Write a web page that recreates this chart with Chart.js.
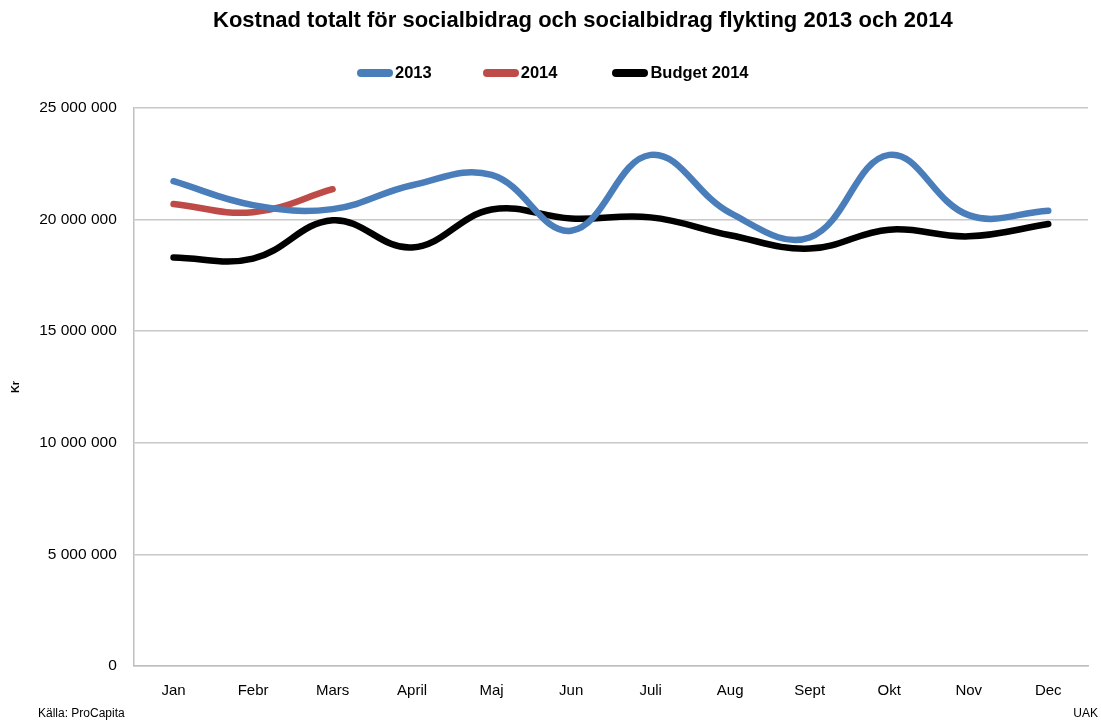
<!DOCTYPE html>
<html>
<head>
<meta charset="utf-8">
<script src="https://cdn.jsdelivr.net/npm/chart.js@4.4.1/dist/chart.umd.min.js"></script>
<style>
  html, body { margin: 0; padding: 0; background: #fff; }
  #wrap { position: relative; width: 1101px; height: 720px; }
  #title { position: absolute; left: 213px; top: 7px; width: 736px; text-align: center; white-space: nowrap;
           font-family: 'Liberation Sans', Arial, sans-serif; font-size: 22px; font-weight: bold; color: #000; }
  .note { position: absolute; font-family: 'Liberation Sans Narrow', 'Liberation Sans', Arial, sans-serif; font-size: 12px; color: #000; }
  #legend { position: absolute; left: 357px; top: 63px; display: flex; align-items: center;
            font-family: 'Liberation Sans', Arial, sans-serif; font-size: 16.5px; font-weight: bold; color: #000; }
  #legend .item { display: flex; align-items: center; margin-right: 55px; }
  #legend .item:first-child { margin-right: 51px; }
  #legend .box { width: 36px; height: 8px; border-radius: 4px; margin-right: 2px; }
</style>
</head>
<body>
<div id="wrap">
  <canvas id="chart" width="1101" height="720"></canvas>
  <div id="title">Kostnad totalt för socialbidrag och socialbidrag flykting 2013 och 2014</div>
  <div id="legend"></div>
  <div class="note" style="left:38px; top:706px;">Källa: ProCapita</div>
  <div class="note" style="right:3px; top:706px;">UAK</div>
</div>
<script>
const months = ['Jan', 'Febr', 'Mars', 'April', 'Maj', 'Jun', 'Juli', 'Aug', 'Sept', 'Okt', 'Nov', 'Dec'];
const cost2013 = [21720000, 20650000, 20470000, 21540000, 22000000, 19500000, 22900000, 20300000, 19200000, 22900000, 20200000, 20400000];
const cost2014 = [20700000, 20330000, 21360000, null, null, null, null, null, null, null, null, null];
const budget2014 = [18300000, 18250000, 19970000, 18750000, 20450000, 20050000, 20100000, 19300000, 18700000, 19550000, 19250000, 19800000];

const fontFam = "'Liberation Sans Narrow', 'Liberation Sans', Arial, sans-serif";

const fmt = v => String(v).replace(/\B(?=(\d{3})+(?!\d))/g, ' ');

const lineDs = (label, data, color) => ({
    label,
    data,
    borderColor: color,
    backgroundColor: color,
    borderWidth: 6.5,
    pointRadius: 0,
    tension: 0.4,
    spanGaps: false,
    borderCapStyle: 'round',
    fill: false
});

const chart = new Chart(document.getElementById('chart').getContext('2d'), {
    type: 'line',
    data: {
        labels: months,
        datasets: [
            lineDs('2013', cost2013, '#4a7ebb'),
            lineDs('2014', cost2014, '#be4b48'),
            lineDs('Budget 2014', budget2014, '#000000')
        ]
    },
    options: {
        responsive: false,
        animation: false,
        layout: { padding: { left: 9, right: 13, top: 108, bottom: 4 } },
        plugins: {
            title: { display: false },
            legend: { display: false },
            tooltip: { enabled: false }
        },
        scales: {
            x: {
                offset: true,
                grid: { display: false, drawTicks: false },
                border: { color: '#bfbfbf', width: 1.5 },
                ticks: { color: '#000', padding: 16, font: { family: fontFam, size: 15 } }
            },
            y: {
                min: 0,
                max: 25000000,
                title: {
                    display: true,
                    text: 'Kr',
                    color: '#000',
                    font: { family: 'Liberation Sans, Arial, sans-serif', size: 11, weight: 'bold' },
                    padding: { top: 0, bottom: 0 }
                },
                grid: { color: '#c8c8c8', lineWidth: 1.5, drawTicks: false },
                border: { color: '#bfbfbf', width: 1.5 },
                ticks: {
                    stepSize: 5000000,
                    color: '#000',
                    padding: 17,
                    font: { family: fontFam, size: 15.5 },
                    callback: v => fmt(v)
                }
            }
        }
    }
});

// legend as html, built from the datasets
const legendEl = document.getElementById('legend');
chart.data.datasets.forEach(ds => {
    const item = document.createElement('div');
    item.className = 'item';
    const box = document.createElement('span');
    box.className = 'box';
    box.style.background = ds.borderColor;
    const txt = document.createElement('span');
    txt.textContent = ds.label;
    item.appendChild(box);
    item.appendChild(txt);
    legendEl.appendChild(item);
});
</script>
</body>
</html>
